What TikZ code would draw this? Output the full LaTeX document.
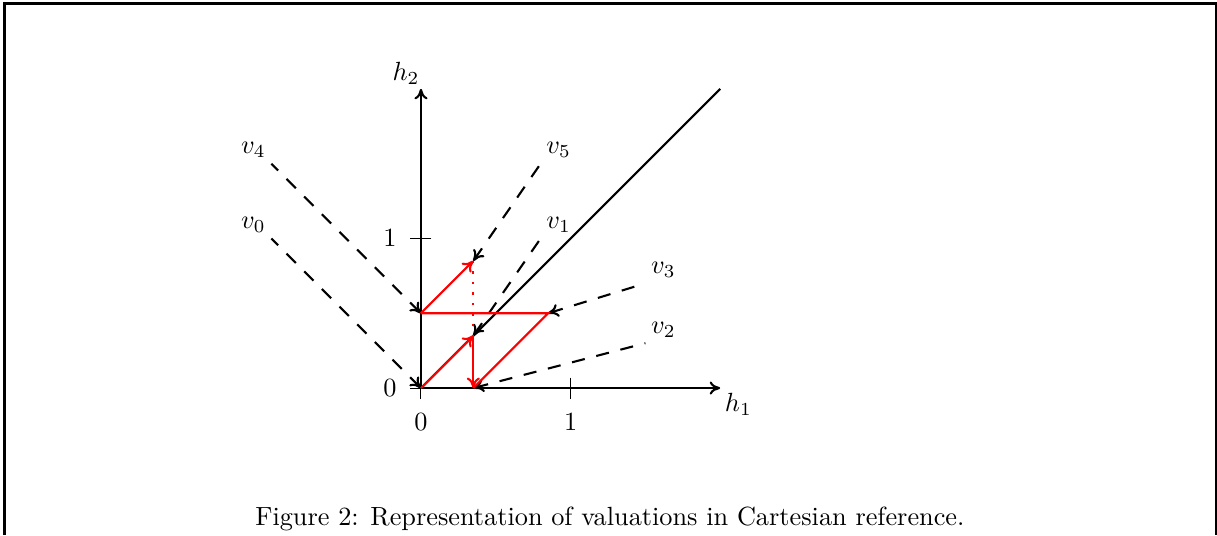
\documentclass[tikz,border=0pt]{standalone}
\usepackage{xcolor}
\usepackage{tikz}
\usetikzlibrary{arrows.meta, positioning, calc}

\begin{document}
\begin{tikzpicture}[x=2cm, y=2cm, >={To[length=4pt, width=5pt]},
  axisline/.style={thick, ->},
  valline/.style={thick, dash pattern=on 5pt off 4.5pt, <-},
  runline/.style={thick, red}]
  \useasboundingbox (-2.814,-0.983) rectangle (5.321,2.594);
  % frame of the page
  \draw[line width=1.3pt] (-2.783,-0.983) -- (-2.783,2.572) -- (5.321,2.572);
  \draw[line width=0.65pt] (5.312,2.572) -- (5.312,-0.983);

  \coordinate (o) at (0,0);
  \coordinate (a) at (0.35,0.35);
  \coordinate (b) at (0.35,0);
  \coordinate (c) at (0.85,0.5);
  \coordinate (d) at (0,0.5);
  \coordinate (e) at (0.35,0.85);
  \coordinate (h1end) at (2,0);
  \coordinate (h2end) at (0,2);
  \coordinate (diag) at (2,2);

  % axes
  \draw[axisline] (o) -- (h1end);
  \draw[axisline] (o) -- (h2end);
  \node (h1lbl) at (2.122,-0.11) {$h_1$};
  \node (h2lbl) at (-0.1,2.106) {$h_2$};
  \foreach \t in {0,1} {
    \draw (\t,4pt) -- (\t,-4pt);
    \draw (4pt,\t) -- (-4pt,\t);
    \node (xt\t) at (\t,-0.227) {$\t$};
    \node (yt\t) at (-0.207,\t) {$\t$};
  }
  \draw[thick] (o) -- (diag);

  % valuations (drawn from the tip back, so the dashes start at the arrow)
  \foreach \i/\sx/\sy/\pos/\tgt in {0/-1/1/above left/o, 4/-1/1.5/above left/d,
                                    5/0.8/1.5/above right/e, 1/0.8/1/above right/a,
                                    3/1.5/0.7/above right/c, 2/1.5/0.3/above right/b} {
    \coordinate (v\i) at (\sx,\sy);
    \node[\pos, inner sep=2pt] (v\i lbl) at (v\i) {$v_\i$};
    \draw[valline] (\tgt) -- (v\i);
  }

  % run
  \draw[runline, ->] (o) -- (a);
  \draw[runline, ->] (a) -- (b);
  \draw[runline] (b) -- (c) -- (d);
  \draw[runline, ->] (d) -- (e);
  \draw[runline, dash pattern=on 0.8pt off 3.2pt] (e) -- (a);

  \node (caption) at (1.263,-0.872) {Figure 2: Representation of valuations in Cartesian reference.};
\end{tikzpicture}
\end{document}
